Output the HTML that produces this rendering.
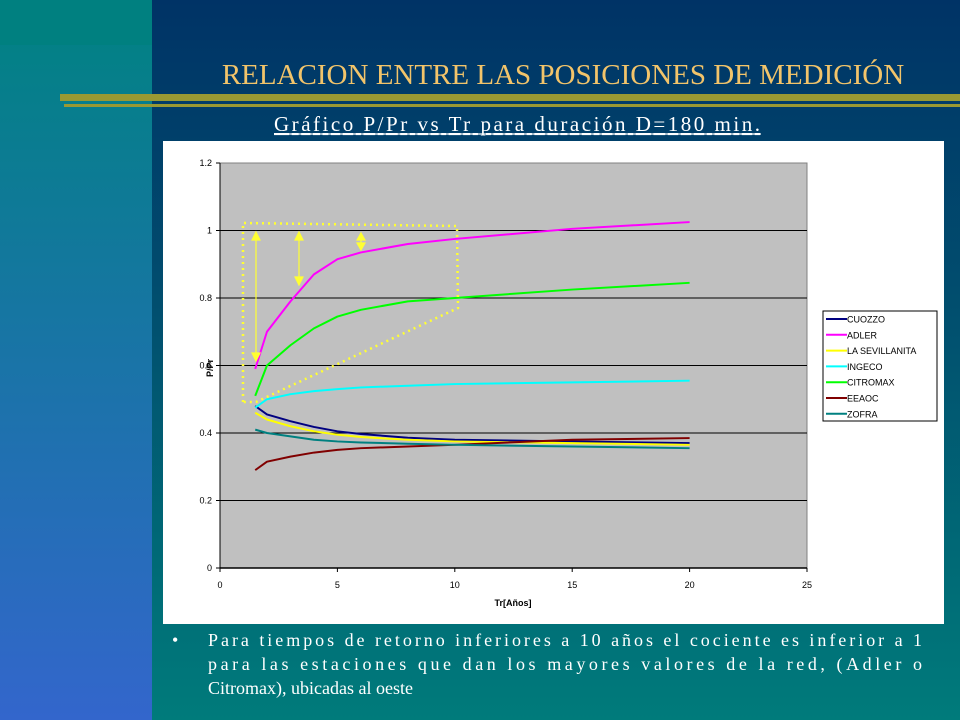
<!DOCTYPE html>
<html><head><meta charset="utf-8"><style>
html,body{margin:0;padding:0;width:960px;height:720px;overflow:hidden}
svg{display:block}
</style></head><body>
<svg id="s" width="960" height="720" xmlns="http://www.w3.org/2000/svg">
<defs>
<linearGradient id="lg" x1="0" y1="0" x2="0" y2="1"><stop offset="0" stop-color="#008282"/><stop offset="1" stop-color="#3366cc"/></linearGradient>
<linearGradient id="rg" x1="0" y1="0" x2="0" y2="1"><stop offset="0" stop-color="#003366"/><stop offset="0.45" stop-color="#01506f"/><stop offset="1" stop-color="#007b7b"/></linearGradient>
</defs>
<rect x="0" y="0" width="152" height="720" fill="url(#lg)"/>
<rect x="0" y="0" width="152" height="45" fill="#008080"/>
<rect x="152" y="0" width="808" height="720" fill="url(#rg)"/>
<text x="563" y="84" text-anchor="middle" font-family="Liberation Serif, serif" font-size="29" fill="#f2c46a">RELACION ENTRE LAS POSICIONES DE MEDICIÓN</text>
<rect x="60" y="94" width="900" height="7" fill="#999933"/>
<rect x="64" y="104" width="896" height="3" fill="#999933"/>
<text x="517" y="131" text-anchor="middle" font-family="Liberation Serif, serif" font-size="21" fill="#fff" text-decoration="underline" textLength="486">Gráfico P/Pr vs Tr para duración D=180 min.</text>
<line x1="275" y1="134" x2="761" y2="134" stroke="#fff" stroke-width="1.2"/>
<rect x="163" y="141" width="781" height="483" fill="#fff"/>
<rect x="220" y="163" width="587" height="405" fill="#c0c0c0" stroke="#808080"/>
<g id="grid"></g><g id="axes" font-family="Liberation Sans, sans-serif" font-size="9" fill="#000"></g>
<g id="series"></g>
<g fill="none" stroke="#ffff33" stroke-width="2.5" stroke-dasharray="2 4">
<polyline points="243,402 243,223 457,226 458,308 256,402 243,402"/>
</g>
<g stroke="#ffff33" stroke-width="1.2" fill="#ffff33">
<line x1="256" y1="236" x2="256" y2="357"/><polygon points="252,240 260,240 256,232"/><polygon points="252,353 260,353 256,361"/>
<line x1="299" y1="236" x2="299" y2="281"/><polygon points="295,240 303,240 299,232"/><polygon points="295,277 303,277 299,285"/>
<line x1="361" y1="236" x2="361" y2="246"/><polygon points="357,240 365,240 361,233"/><polygon points="357,243 365,243 361,250"/>
</g>
<text x="213" y="368" transform="rotate(-90 213 368)" text-anchor="middle" font-family="Liberation Sans, sans-serif" font-size="9" font-weight="bold">P/Pr</text>
<text x="513" y="606" text-anchor="middle" font-family="Liberation Sans, sans-serif" font-size="9" font-weight="bold">Tr[Años]</text>
<rect x="823" y="311" width="114" height="110" fill="#fff" stroke="#000"/>
<g id="legend" font-family="Liberation Sans, sans-serif" font-size="9"></g>
<g font-family="Liberation Serif, serif" font-size="18" fill="#fff">
<text x="172" y="646">•</text>
<text x="208" y="646" textLength="714" lengthAdjust="spacing">Para tiempos de retorno inferiores a 10 años el cociente es inferior a 1</text>
<text x="208" y="670" textLength="714" lengthAdjust="spacing">para las estaciones que dan los mayores valores de la red, (Adler o</text>
<text x="208" y="694">Citromax), ubicadas al oeste</text>
</g>
</svg>
<script>
const xs = [1.5,2,3,4,5,6,8,10,15,20];
const names = ["CUOZZO","ADLER","LA SEVILLANITA","INGECO","CITROMAX","EEAOC","ZOFRA"];
const colors = ["#000080","#ff00ff","#ffff00","#00ffff","#00ff00","#800000","#008080"];
const cuozzo = [0.48,0.455,0.435,0.418,0.405,0.397,0.386,0.38,0.375,0.37];
const adler = [0.59,0.70,0.79,0.87,0.915,0.935,0.96,0.975,1.005,1.025];
const sevillanita = [0.46,0.44,0.42,0.405,0.395,0.388,0.38,0.375,0.37,0.365];
const ingeco = [0.475,0.5,0.515,0.524,0.53,0.535,0.54,0.545,0.55,0.555];
const citromax = [0.51,0.6,0.66,0.71,0.745,0.765,0.79,0.8,0.825,0.845];
const eeaoc = [0.29,0.315,0.33,0.342,0.35,0.355,0.36,0.365,0.38,0.385];
const zofra = [0.41,0.4,0.39,0.38,0.375,0.372,0.368,0.365,0.36,0.355];
const xTicks = [0,5,10,15,20,25];
const yTicks = [0,0.2,0.4,0.6,0.8,1,1.2];
const yTickLabels = ["0","0.2","0.4","0.6","0.8","1","1.2"];
const NS="http://www.w3.org/2000/svg";
const X=v=>220+v*587/25, Y=v=>568-v*405/1.2;
function mk(t,a,p){const e=document.createElementNS(NS,t);for(const k in a)e.setAttribute(k,a[k]);p.appendChild(e);return e;}
const grid=document.getElementById('grid'),axes=document.getElementById('axes');
yTicks.forEach((v,i)=>{
 if(v>0&&v<1.2){const l=mk('line',{x1:220,x2:807,y1:Y(v),y2:Y(v),stroke:'#000','stroke-width':1},grid);
 
 }
 mk('line',{x1:216,x2:220,y1:Y(v),y2:Y(v),stroke:'#000'},axes);
 const t=mk('text',{x:212,y:Y(v)+3,'text-anchor':'end'},axes);t.textContent=yTickLabels[i];
 
 
});
mk('line',{x1:220,x2:220,y1:163,y2:568,stroke:'#000'},axes);
mk('line',{x1:220,x2:807,y1:568,y2:568,stroke:'#000','stroke-width':1.5},axes);
xTicks.forEach(v=>{
 mk('line',{x1:X(v),x2:X(v),y1:568,y2:572,stroke:'#000'},axes);
 const t=mk('text',{x:X(v),y:588,'text-anchor':'middle'},axes);t.textContent=v;
 
 
});
const data=[cuozzo,adler,sevillanita,ingeco,citromax,eeaoc,zofra];
const sg=document.getElementById('series'),lg=document.getElementById('legend');
data.forEach((d,i)=>{
 const p=mk('polyline',{points:d.map((v,j)=>X(xs[j])+','+Y(v)).join(' '),fill:'none',stroke:colors[i],'stroke-width':2,'stroke-linejoin':'round'},sg);
 
 
 const y=319+i*15.8;
 const g=mk('g',{},lg);
 
 
 mk('line',{x1:826,x2:847,y1:y,y2:y,stroke:colors[i],'stroke-width':2},g);
 const t=mk('text',{x:847,y:y+3.5},g);t.textContent=names[i];
});
</script>
</body></html>
